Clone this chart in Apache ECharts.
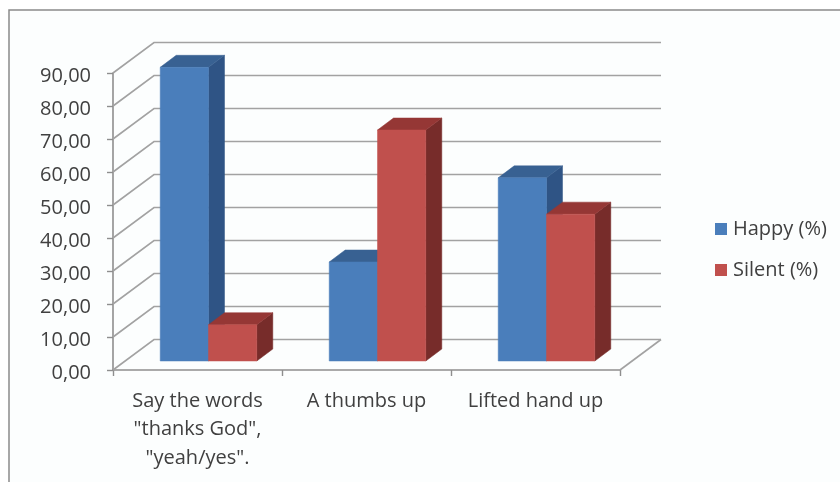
<!DOCTYPE html>
<html>
<head>
<meta charset="utf-8">
<style>
  html, body { margin: 0; padding: 0; background: #ffffff; }
  #chart { width: 840px; height: 482px; }
</style>
<script src="https://cdn.jsdelivr.net/npm/echarts@6/dist/echarts.min.js"></script>
</head>
<body>
<div id="chart"></div>
<script>
const categories = ['Say the words\n"thanks God",\n"yeah/yes".', 'A thumbs up', 'Lifted hand up'];
const happy = [89, 30, 55.5];
const silent = [11, 70, 44.5];
const yTicks = [0, 10, 20, 30, 40, 50, 60, 70, 80, 90];

// Oblique projection used for the fake 3D look
const WALL_DX = 41, WALL_DY = -30.5;
const BAR_INSET_DX = 11, BAR_INSET_DY = -9;
const BAR_DEPTH_DX = 16, BAR_DEPTH_DY = -12;
const BAR_BAND_RATIO = 1 / 3.5;

const TEXT = '#404040';
const FONT = '"Open Sans"';
const FONT_SIZE = 20;

function shade(points, fill) {
  return { type: 'polygon', shape: { points }, style: { fill, stroke: fill, lineWidth: 0.5 } };
}

function renderWalls(params, api) {
  const grid = params.coordSys;
  const y = api.coord([0, api.value(1)])[1];
  const left = grid.x, right = grid.x + grid.width;
  const lineStyle = { stroke: '#a2a2a2', lineWidth: 1.6, fill: null };
  const children = [{
    type: 'polyline',
    shape: { points: [[left, y], [left + WALL_DX, y + WALL_DY], [right + WALL_DX, y + WALL_DY]] },
    style: lineStyle
  }];
  if (api.value(1) === 0) {
    children.push({
      type: 'line',
      shape: { x1: right, y1: y, x2: right + WALL_DX, y2: y + WALL_DY },
      style: lineStyle
    });
  }
  return { type: 'group', children };
}

function barRenderer(slot, front, top, side) {
  return function (params, api) {
    const idx = api.value(0);
    const base = api.coord([idx, 0]);
    const head = api.coord([idx, api.value(1)]);
    const width = api.size([1, 0])[0] * BAR_BAND_RATIO;
    const x0 = base[0] + BAR_INSET_DX + (slot === 0 ? -width : 0);
    const x1 = x0 + width;
    const yb = base[1] + BAR_INSET_DY;
    const yt = head[1] + BAR_INSET_DY;
    const dx = BAR_DEPTH_DX, dy = BAR_DEPTH_DY;
    return {
      type: 'group',
      children: [
        shade([[x1, yb], [x1 + dx, yb + dy], [x1 + dx, yt + dy], [x1, yt]], side),
        shade([[x0, yt], [x1, yt], [x1 + dx, yt + dy], [x0 + dx, yt + dy]], top),
        shade([[x0, yb], [x1, yb], [x1, yt], [x0, yt]], front)
      ]
    };
  };
}

const chart = echarts.init(document.getElementById('chart'), null, { renderer: 'canvas' });
chart.setOption({
  animation: false,
  backgroundColor: '#ffffff',
  graphic: [{
    type: 'rect',
    z: -10,
    silent: true,
    shape: { x: 9, y: 10, width: 860, height: 500 },
    style: { fill: '#fcfefe', stroke: '#8a8a8a', lineWidth: 1.5 }
  }],
  grid: { left: 113, top: 73, width: 507, height: 297, containLabel: false, outerBoundsMode: 'none' },
  legend: {
    data: ['Happy (%)', 'Silent (%)'],
    orient: 'vertical',
    left: 710,
    top: 214,
    icon: 'rect',
    itemWidth: 12,
    itemHeight: 12,
    itemGap: 21,
    textStyle: { color: TEXT, fontFamily: FONT, fontSize: FONT_SIZE, padding: [0, 0, 0, 1] }
  },
  xAxis: {
    type: 'category',
    data: categories,
    axisLine: { show: true, lineStyle: { color: '#8e8e8e', width: 1.6 } },
    axisTick: { show: true, length: 6, alignWithLabel: false, lineStyle: { color: '#8e8e8e', width: 1.4 } },
    axisLabel: { interval: 0, color: TEXT, fontFamily: FONT, fontSize: FONT_SIZE, lineHeight: 28.5, margin: 17 },
    splitLine: { show: false }
  },
  yAxis: {
    type: 'value',
    min: 0,
    max: 90,
    interval: 10,
    axisLine: { show: true, lineStyle: { color: '#8e8e8e', width: 1.6 } },
    axisTick: { show: true, length: 6, lineStyle: { color: '#8e8e8e', width: 1.4 } },
    axisLabel: {
      color: TEXT, fontFamily: FONT, fontSize: FONT_SIZE, margin: 22,
      verticalAlign: 'top', lineHeight: 7,
      formatter: (v) => v.toFixed(2).replace('.', ',')
    },
    splitLine: { show: false }
  },
  series: [
    {
      name: 'walls',
      type: 'custom',
      clip: false,
      z: 1,
      silent: true,
      renderItem: renderWalls,
      encode: { x: 0, y: 1 },
      data: yTicks.map((t) => [0, t])
    },
    {
      name: 'Happy (%)',
      type: 'custom',
      clip: false,
      z: 3,
      itemStyle: { color: '#4a7ebb' },
      renderItem: barRenderer(0, '#4a7ebb', '#386192', '#2f5485'),
      encode: { x: 0, y: 1 },
      data: happy.map((v, i) => [i, v])
    },
    {
      name: 'Silent (%)',
      type: 'custom',
      clip: false,
      z: 4,
      itemStyle: { color: '#c0504d' },
      renderItem: barRenderer(1, '#c0504d', '#953735', '#772c2a'),
      encode: { x: 0, y: 1 },
      data: silent.map((v, i) => [i, v])
    }
  ]
});
</script>
</body>
</html>
